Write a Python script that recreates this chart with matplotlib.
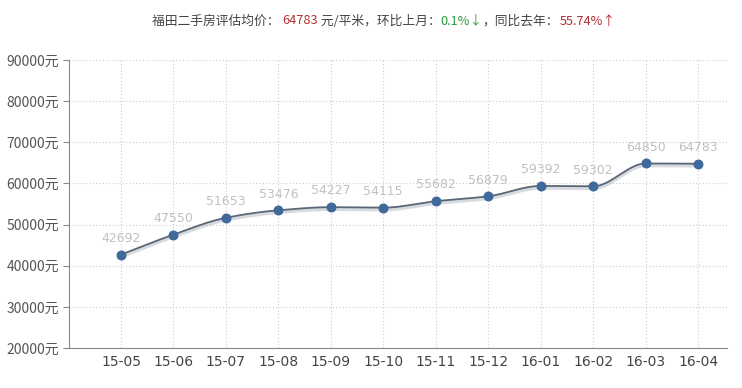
import numpy as np
import matplotlib.pyplot as plt
import matplotlib.patheffects as pe

plt.rcParams['font.family'] = ['Noto Sans CJK SC', 'DejaVu Sans']

months = ['15-05', '15-06', '15-07', '15-08', '15-09', '15-10',
          '15-11', '15-12', '16-01', '16-02', '16-03', '16-04']
prices = [42692, 47550, 51653, 53476, 54227, 54115,
          55682, 56879, 59392, 59302, 64850, 64783]
yticks = [20000, 30000, 40000, 50000, 60000, 70000, 80000, 90000]


def smooth(xs, ys, n=20):
    # monotone cubic hermite, like the spline in the source chart
    xs = np.asarray(xs, float)
    ys = np.asarray(ys, float)
    d = np.diff(ys) / np.diff(xs)
    m = np.zeros_like(ys)
    m[0], m[-1] = d[0], d[-1]
    for i in range(1, len(ys) - 1):
        if d[i - 1] * d[i] <= 0:
            m[i] = 0
        else:
            m[i] = 2 / (1 / d[i - 1] + 1 / d[i])
    px, py = [], []
    for i in range(len(xs) - 1):
        t = np.linspace(0, 1, n, endpoint=False)
        h = xs[i + 1] - xs[i]
        h00 = 2 * t**3 - 3 * t**2 + 1
        h10 = t**3 - 2 * t**2 + t
        h01 = -2 * t**3 + 3 * t**2
        h11 = t**3 - t**2
        px.extend(xs[i] + t * h)
        py.extend(h00 * ys[i] + h10 * h * m[i] + h01 * ys[i + 1] + h11 * h * m[i + 1])
    px.append(xs[-1])
    py.append(ys[-1])
    return np.array(px), np.array(py)


fig = plt.figure(figsize=(7.42, 3.88), dpi=100)
ax = fig.add_axes([69 / 742, 1 - 348 / 388, (727 - 69) / 742, (348 - 60) / 388])

x = np.arange(len(months))
sx, sy = smooth(x, prices)
ax.plot(sx, sy, color='#5b6677', lw=1.3, zorder=3,
        path_effects=[pe.SimpleLineShadow(offset=(0, -1.5), shadow_color='#a8b0ba', alpha=0.45, linewidth=2.5),
                      pe.Normal()])
ax.scatter(x, prices, s=38, color='#3e6999', zorder=4)
for xi, p in zip(x, prices):
    ax.annotate(str(p), (xi, p), xytext=(0, 7), textcoords='offset points',
                ha='center', va='bottom', fontsize=9, color='#c0c0c0', family='DejaVu Sans')

ax.set_xlim(-0.99, 11.55)
ax.set_ylim(20000, 90000)
ax.set_xticks(x)
ax.set_xticklabels(months, fontsize=10, color='#444444', family='DejaVu Sans')
ax.set_yticks(yticks)
ax.set_yticklabels([f'{v}元' for v in yticks], fontsize=10, color='#555555')
ax.tick_params(axis='x', length=0, pad=5)
ax.tick_params(axis='y', length=4, color='#888888', pad=3)
ax.grid(True, linestyle=(0, (1, 2)), color='#cccccc', lw=0.8)
ax.set_axisbelow(True)
for s in ['top', 'right']:
    ax.spines[s].set_visible(False)
for s in ['left', 'bottom']:
    ax.spines[s].set_color('#888888')

# coloured title assembled piece by piece
parts = [('福田二手房评估均价： ', '#444444'), ('64783', '#b03030'),
         (' 元/平米，环比上月：', '#444444'), ('0.1%↓', '#2e9a3e'),
         ('，同比去年：', '#444444'), ('55.74%↑', '#b03030')]
fig.canvas.draw()
r = fig.canvas.get_renderer()
texts = []
xpos = 0
for s, c in parts:
    t = fig.text(0, 1 - 21 / 388, s, color=c, fontsize=9.2, va='center', ha='left')
    w = t.get_window_extent(r).width
    texts.append((t, xpos))
    xpos += w
start = 152
for t, off in texts:
    t.set_x((start + off) / 742)

fig.savefig('out.png', dpi=100)
